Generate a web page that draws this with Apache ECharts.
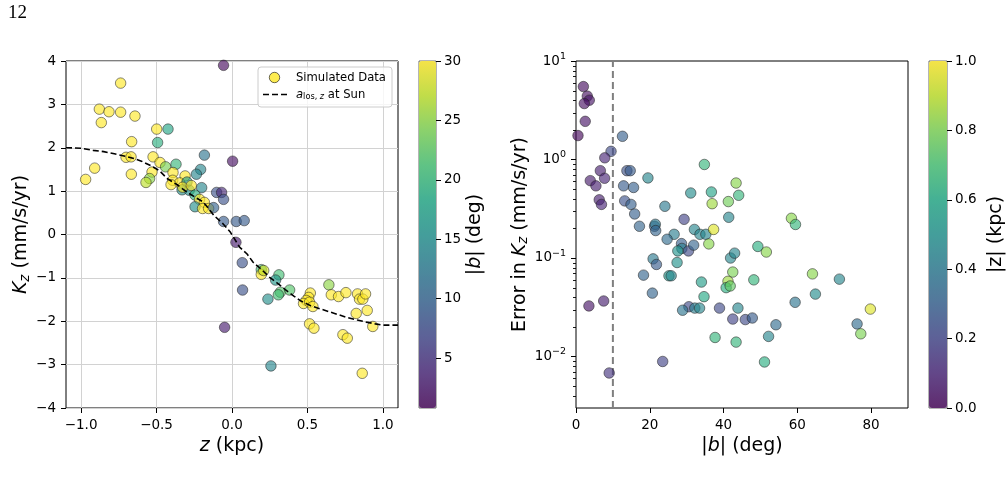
<!DOCTYPE html>
<html><head><meta charset="utf-8">
<script src="https://cdn.jsdelivr.net/npm/echarts@6/dist/echarts.min.js"></script>
<style>html,body{margin:0;padding:0;background:#fff}#c{width:1007px;height:486px}</style>
</head><body><div id="c"></div>
<script>
// ---------- Left panel: K_z vs z, coloured by |b| ----------
const leftZ = [-0.056,-0.738,-0.879,-0.815,-0.738,-0.643,-0.866,-0.499,-0.424,-0.665,-0.493,-0.183,0.004,-0.702,-0.669,-0.523,-0.910,-0.477,-0.440,-0.371,-0.970,-0.667,-0.530,-0.546,-0.570,-0.391,-0.208,-0.236,-0.311,-0.393,-0.347,-0.404,-0.298,-0.331,-0.283,-0.327,-0.270,-0.201,-0.245,-0.215,-0.183,-0.245,-0.195,-0.155,-0.122,-0.102,-0.069,-0.056,-0.056,0.028,0.081,0.026,0.068,0.070,-0.049,0.194,0.194,0.210,0.311,0.289,0.320,0.307,0.238,0.382,0.258,0.519,0.508,0.492,0.474,0.514,0.536,0.514,0.543,0.642,0.658,0.706,0.755,0.832,0.845,0.867,0.885,0.823,0.896,0.933,0.735,0.764,0.863];
const leftK = [3.90,3.49,2.89,2.83,2.82,2.73,2.58,2.43,2.43,2.14,2.12,1.83,1.69,1.78,1.79,1.79,1.53,1.66,1.56,1.62,1.27,1.39,1.44,1.29,1.20,1.43,1.50,1.39,1.35,1.25,1.19,1.15,1.21,1.03,1.02,1.09,1.13,1.08,0.91,0.81,0.74,0.64,0.60,0.60,0.62,0.97,0.97,0.81,0.30,0.30,0.32,-0.18,-0.65,-1.28,-2.14,-0.81,-0.92,-0.83,-0.93,-1.05,-1.33,-1.39,-1.49,-1.28,-3.03,-1.35,-1.45,-1.52,-1.59,-1.56,-1.66,-2.06,-2.16,-1.16,-1.39,-1.43,-1.34,-1.37,-1.49,-1.49,-1.37,-1.82,-1.75,-2.12,-2.31,-2.39,-3.20];
const leftAbsB = [1.5,30,30,30,30,30,30,30,18,30,19,12,2,30,30,30,30,30,24,20,30,30,30,25,27,30,14,14,30,30,30,30,17,15,15,30,30,14,19,30,30,15,30,30,10,8,4,8,9,9,9,3,8,8,3,21,30,28,21,16,22,21,15,22,14,30,30,30,30,30,30,30,30,25,30,30,30,30,30,30,30,30,30,30,30,30,30];
// a_los,z at Sun (dashed curve)
const sunZ = [-1.1,-1.0,-0.92,-0.85,-0.78,-0.70,-0.65,-0.60,-0.54,-0.48,-0.43,-0.36,-0.30,-0.24,-0.19,-0.12,-0.06,-0.01,0.05,0.10,0.14,0.20,0.25,0.30,0.36,0.41,0.45,0.52,0.59,0.68,0.76,0.83,0.89,0.95,1.00,1.10];
const sunA = [2.00,1.99,1.94,1.91,1.86,1.80,1.75,1.69,1.59,1.47,1.29,1.14,0.98,0.85,0.75,0.44,0.25,0.05,-0.29,-0.45,-0.64,-0.82,-0.99,-1.12,-1.29,-1.42,-1.52,-1.64,-1.72,-1.82,-1.91,-1.97,-2.02,-2.06,-2.09,-2.09];

// ---------- Right panel: error in K_z vs |b|, coloured by |z| ----------
const rightAbsB = [2.0,3.06,3.6,2.25,2.5,0.54,12.6,9.5,7.8,6.6,7.75,3.87,5.4,6.3,6.9,13.8,14.7,19.5,12.9,15.6,13.2,14.9,15.9,17.2,21.3,21.5,21.6,24.1,26.6,29.3,32.1,33.6,35.2,37.3,34.8,31.1,36.7,36.9,41.3,41.4,43.4,44.1,58.4,59.5,24.7,28.6,28.7,27.6,30.5,31.9,36.0,20.9,21.8,27.4,18.3,25.2,25.8,20.7,34.0,34.7,30.6,28.9,32.2,33.5,38.9,42.5,37.7,3.5,7.5,23.5,9.0,41.9,43.0,42.5,41.2,40.7,41.8,43.4,43.9,49.3,51.6,48.2,64.1,71.4,64.9,59.4,45.9,47.8,54.2,52.2,51.1,79.8,76.2,77.2];
const rightErr = [5.5,4.4,4.0,3.7,2.44,1.75,1.72,1.21,1.04,0.77,0.645,0.61,0.54,0.39,0.35,0.77,0.77,0.65,0.54,0.52,0.38,0.35,0.28,0.21,0.21,0.22,0.19,0.335,0.174,0.247,0.195,0.174,0.174,0.195,0.89,0.457,0.468,0.356,0.374,0.259,0.577,0.433,0.253,0.219,0.155,0.14,0.125,0.118,0.118,0.135,0.139,0.098,0.086,0.090,0.067,0.066,0.066,0.044,0.057,0.0405,0.032,0.0295,0.031,0.031,0.031,0.024,0.0156,0.0326,0.0366,0.0089,0.0068,0.100,0.112,0.072,0.058,0.050,0.052,0.014,0.031,0.131,0.115,0.060,0.069,0.061,0.043,0.0355,0.0237,0.0246,0.021,0.016,0.0088,0.0303,0.0214,0.017];
const rightAbsZ = [0.03,0.04,0.05,0.04,0.05,0.02,0.30,0.22,0.10,0.08,0.10,0.07,0.08,0.08,0.10,0.25,0.28,0.45,0.28,0.30,0.25,0.30,0.30,0.32,0.30,0.40,0.32,0.40,0.42,0.20,0.45,0.45,0.45,0.95,0.65,0.48,0.58,0.85,0.78,0.45,0.82,0.65,0.82,0.65,0.35,0.30,0.42,0.50,0.22,0.32,0.82,0.40,0.28,0.50,0.32,0.52,0.45,0.32,0.55,0.60,0.22,0.38,0.42,0.45,0.22,0.20,0.65,0.05,0.08,0.20,0.15,0.45,0.45,0.80,0.85,0.62,0.75,0.65,0.45,0.62,0.82,0.65,0.82,0.45,0.48,0.38,0.22,0.28,0.35,0.45,0.62,0.95,0.35,0.80];
const cutB = [10, 10];
const cutErr = [0.003, 10];

// ---------- Ticks ----------
const leftXTicks = [-1.0,-0.5,0.0,0.5,1.0];
const leftCbTicks = [5,10,15,20,25,30];
const rightXTicks = [0,20,40,60,80];
const rightYMajor = [0.01,0.1,1,10];
const rightYMinor = [0.004,0.005,0.006,0.007,0.008,0.009,0.02,0.03,0.04,0.05,0.06,0.07,0.08,0.09,0.2,0.3,0.4,0.5,0.6,0.7,0.8,0.9,2,3,4,5,6,7,8,9];
const rightCbTicks = [0,0.2,0.4,0.6,0.8,1.0];
const errMin = 0.003, errMax = 10;

const FONT = 'DejaVu Sans';
const viridis = ['#440154','#482475','#414487','#355f8d','#2a788e','#21918c','#22a884','#44bf70','#7ad151','#bddf26','#fde725'];
function rgba(hex, a){const n=parseInt(hex.slice(1),16);return 'rgba('+(n>>16)+','+((n>>8)&255)+','+(n&255)+','+a+')';}
const vir = viridis.map(c=>rgba(c,0.8));
const minus = v => String(v).replace('-', '\u2212');
const fmt1 = v => minus((Math.abs(v)<1e-9?0:v).toFixed(1));
const tickStyle = {fontSize:13.5, fontFamily:FONT, color:'#000'};
const nameRich = {
  i:{fontStyle:'italic', fontSize:19, fontFamily:FONT, color:'#000'},
  s:{fontStyle:'italic', fontSize:13.5, fontFamily:FONT, color:'#000', padding:[8,0,0,0]},
  n:{fontSize:19, fontFamily:FONT, color:'#000'}
};
const nameStyle = {fontSize:19, fontFamily:FONT, color:'#000', rich:nameRich};
const axisTick = (vals, len, w) => ({show:true, inside:false, length:len||5, lineStyle:{color:'#000', width:w||1}, customValues:vals});
const noLine = {show:false, onZero:false};

const chart = echarts.init(document.getElementById('c'), null, {renderer:'canvas'});
const baseGraphic = [
    {type:'text', left:8, top:4, style:{text:'12', font:'19px "Liberation Serif", "DejaVu Serif", serif', fill:'#000'}},
    {type:'rect', shape:{x:258, y:67, width:134, height:40, r:3}, style:{fill:'rgba(255,255,255,0.8)', stroke:'#cccccc', lineWidth:1}, z:10},
    {type:'circle', shape:{cx:274.5, cy:77.5, r:5.2}, style:{fill:rgba('#fde725',0.8), stroke:'rgba(35,35,35,0.75)', lineWidth:0.9}, z:11},
    {type:'text', x:296, y:77.5, style:{text:'Simulated Data', font:'11.6px "DejaVu Sans"', fill:'#000', verticalAlign:'middle'}, z:11},
    {type:'line', shape:{x1:263, y1:94.5, x2:287, y2:94.5}, style:{stroke:'#000', lineWidth:1.6, lineDash:[6,3]}, z:11},
    {type:'text', x:296, y:94.5, z:11, style:{text:'{i|a}{s|los, }{si|z}{n| at Sun}', verticalAlign:'middle', fill:'#000',
      rich:{i:{fontStyle:'italic', fontSize:11.6, fontFamily:FONT, fill:'#000'},
            s:{fontSize:8.2, fontFamily:FONT, fill:'#000', padding:[5,0,0,0]},
            si:{fontStyle:'italic', fontSize:8.2, fontFamily:FONT, fill:'#000', padding:[5,0,0,0]},
            n:{fontSize:11.6, fontFamily:FONT, fill:'#000'}}}}
];
chart.setOption({
  animation:false,
  backgroundColor:'#fff',
  grid:[
    {left:66, top:61, width:332, height:347, show:true, borderColor:'#000', borderWidth:1, backgroundColor:'transparent'},
    {left:576, top:61, width:332, height:347, show:true, borderColor:'#000', borderWidth:1, backgroundColor:'transparent'},
    {left:419, top:61, width:17, height:347, show:true, borderColor:'#444', borderWidth:0.8, backgroundColor:'transparent'},
    {left:929, top:61, width:18, height:347, show:true, borderColor:'#444', borderWidth:0.8, backgroundColor:'transparent'}
  ],
  xAxis:[
    {gridIndex:0, type:'value', min:-1.1, max:1.1,
      axisLine:noLine, axisTick:axisTick(leftXTicks),
      axisLabel:Object.assign({customValues:leftXTicks, margin:10, formatter:fmt1}, tickStyle),
      splitLine:{show:true, lineStyle:{color:'#d2d2d2', width:1}},
      name:'{i|z}{n| (kpc)}', nameLocation:'middle', nameGap:24, nameTextStyle:nameStyle},
    {gridIndex:1, type:'value', min:0, max:90,
      axisLine:noLine, axisTick:axisTick(rightXTicks),
      axisLabel:Object.assign({customValues:rightXTicks, margin:10}, tickStyle),
      splitLine:{show:false},
      name:'{n||}{i|b}{n|| (deg)}', nameLocation:'middle', nameGap:24, nameTextStyle:nameStyle},
    {gridIndex:2, type:'value', min:0, max:1, show:false},
    {gridIndex:3, type:'value', min:0, max:1, show:false}
  ],
  yAxis:[
    {gridIndex:0, type:'value', min:-4, max:4, interval:1,
      axisLine:noLine, axisTick:{show:true, length:5, lineStyle:{color:'#000'}},
      axisLabel:Object.assign({margin:10, formatter:v=>minus(v)}, tickStyle),
      splitLine:{show:true, lineStyle:{color:'#d2d2d2', width:1}},
      name:'{i|K}{s|z}{n| (mm/s/yr)}', nameLocation:'middle', nameGap:33, nameRotate:90, nameTextStyle:nameStyle},
    {gridIndex:1, type:'log', logBase:10, min:errMin, max:errMax,
      axisLine:noLine, axisTick:axisTick(rightYMajor),
      axisLabel:Object.assign({customValues:rightYMajor, margin:10,
        formatter:v=>{const e=Math.round(Math.log10(v));return '{b|10}{p|'+(e<0?'\u2212':'')+Math.abs(e)+'}';},
        rich:{b:{fontSize:13.5, fontFamily:FONT, color:'#000'}, p:{fontSize:9.5, fontFamily:FONT, color:'#000', padding:[0,0,9,0]}}}, tickStyle),
      splitLine:{show:false}, minorTick:{show:false},
      name:'{n|Error in }{i|K}{s|z}{n| (mm/s/yr)}', nameLocation:'middle', nameGap:34, nameRotate:90, nameTextStyle:nameStyle},
    {gridIndex:2, type:'value', min:0.8, max:30, position:'right',
      axisLine:noLine, axisTick:axisTick(leftCbTicks),
      axisLabel:Object.assign({customValues:leftCbTicks, margin:8}, tickStyle),
      splitLine:{show:false},
      name:'{n||}{i|b}{n|| (deg)}', nameLocation:'middle', nameGap:27, nameRotate:90, nameTextStyle:nameStyle},
    {gridIndex:3, type:'value', min:0, max:1, position:'right',
      axisLine:noLine, axisTick:axisTick(rightCbTicks),
      axisLabel:Object.assign({customValues:rightCbTicks, margin:8, formatter:fmt1}, tickStyle),
      splitLine:{show:false},
      name:'{n||z| (kpc)}', nameLocation:'middle', nameGap:40, nameRotate:90, nameTextStyle:nameStyle}
  ],
  visualMap:[
    {type:'continuous', seriesIndex:0, dimension:2, min:0.8, max:30, inRange:{color:vir},
      orient:'vertical', left:419, top:61, itemWidth:17, itemHeight:347, padding:0,
      calculable:false, hoverLink:false, text:null, z:1},
    {type:'continuous', seriesIndex:2, dimension:2, min:0, max:1, inRange:{color:vir},
      orient:'vertical', left:929, top:61, itemWidth:18, itemHeight:347, padding:0,
      calculable:false, hoverLink:false, text:null, z:1}
  ],
  series:[
    {type:'scatter', xAxisIndex:0, yAxisIndex:0, symbolSize:10.5,
      data:leftZ.map((z,i)=>[z,leftK[i],leftAbsB[i]]),
      itemStyle:{borderColor:'rgba(35,35,35,0.75)', borderWidth:0.9}, z:3},
    {type:'line', xAxisIndex:0, yAxisIndex:0, showSymbol:false, symbol:'none',
      data:sunZ.map((z,i)=>[z,sunA[i]]),
      lineStyle:{color:'#000', width:1.6, type:[6,3]}, z:4},
    {type:'scatter', xAxisIndex:1, yAxisIndex:1, symbolSize:10.5,
      data:rightAbsB.map((b,i)=>[b,rightErr[i],rightAbsZ[i]]),
      itemStyle:{borderColor:'rgba(35,35,35,0.75)', borderWidth:0.9}, z:3},
    {type:'line', xAxisIndex:1, yAxisIndex:1, showSymbol:false, symbol:'none',
      data:cutB.map((b,i)=>[b,cutErr[i]]),
      lineStyle:{color:'#7f7f7f', width:2, type:[7,4]}, z:2}
  ],
  graphic: baseGraphic
});
// minor ticks of the log axis, positioned through the axis' own scale
const x0 = chart.convertToPixel({xAxisIndex:1}, 0);
const minorTicks = rightYMinor.map(v => {
  const y = Math.round(chart.convertToPixel({yAxisIndex:1}, v)) + 0.5;
  return {type:'line', shape:{x1:x0-3, y1:y, x2:x0, y2:y}, style:{stroke:'#000', lineWidth:0.9}, z:20};
});
chart.setOption({graphic: baseGraphic.concat(minorTicks)});
</script></body></html>
